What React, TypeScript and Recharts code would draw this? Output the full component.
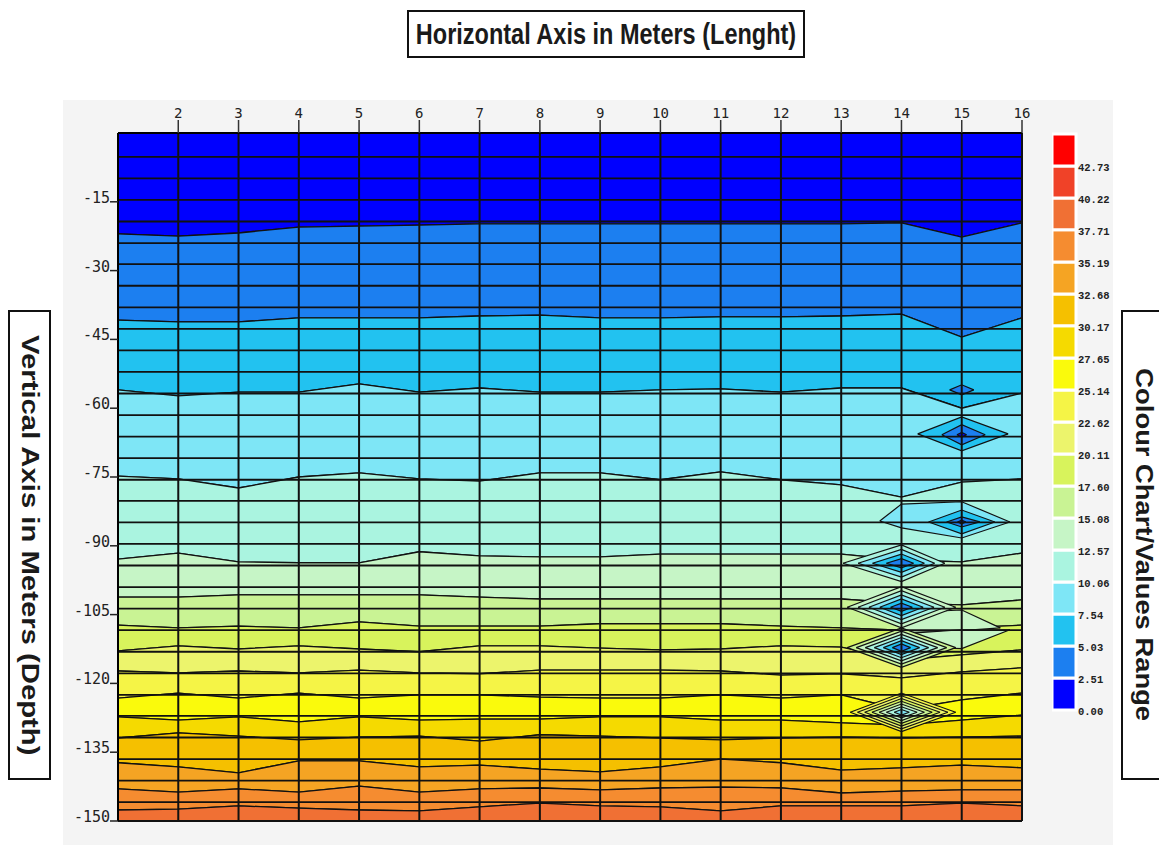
import React from "react";
import {
  Area,
  Bar,
  BarChart,
  ComposedChart,
  ReferenceLine,
  XAxis,
  YAxis,
} from "recharts";

// survey stations along the line (m)
const xMeters = [1, 2, 3, 4, 5, 6, 7, 8, 9, 10, 11, 12, 13, 14, 15, 16];
const xTicks = [2, 3, 4, 5, 6, 7, 8, 9, 10, 11, 12, 13, 14, 15, 16];
const depthTicks = [-15, -30, -45, -60, -75, -90, -105, -120, -135, -150];

// depth of the sampled rows (horizontal grid lines)
const gridRows = [
  -5.2, -9.9, -14.6, -19.3, -24.0, -28.6, -33.3, -38.0, -42.7, -47.4, -52.1,
  -56.8, -61.5, -66.2, -70.9, -75.6, -80.2, -84.9, -89.6, -94.3, -99.0,
  -103.7, -108.4, -113.1, -117.8, -122.5, -127.1, -131.8, -136.5, -141.2,
  -145.9,
];

// depth of each contour level at every station
const contour251 = [-22.0, -22.5, -21.8, -20.5, -20.3, -20.1, -19.8, -19.8, -19.8, -19.8, -19.8, -19.8, -19.8, -19.6, -22.7, -19.6];
const contour503 = [-40.8, -41.2, -41.2, -40.3, -40.3, -40.3, -39.9, -39.7, -40.3, -40.3, -40.1, -40.1, -39.9, -39.5, -44.5, -40.3];
const contour754 = [-56.0, -57.3, -56.5, -56.5, -54.7, -56.5, -55.6, -56.5, -56.5, -56.0, -55.8, -56.5, -55.6, -55.6, -60.0, -56.7];
const contour1006 = [-74.8, -75.4, -77.4, -75.0, -74.1, -75.4, -75.9, -74.1, -74.1, -75.6, -73.9, -75.6, -76.7, -79.4, -76.1, -75.4];
const contour1257 = [-92.9, -91.6, -93.5, -93.7, -93.7, -91.3, -92.2, -92.4, -92.4, -91.8, -91.8, -91.8, -91.8, -93.1, -93.5, -91.6];
const contour1508 = [-101.2, -101.2, -100.7, -100.7, -100.7, -100.7, -101.2, -101.6, -101.6, -101.6, -101.6, -101.6, -101.6, -102.5, -102.9, -101.8];
const contour1760 = [-107.3, -107.9, -107.5, -107.9, -106.6, -107.5, -107.5, -107.5, -107.0, -107.0, -107.0, -107.5, -107.9, -108.4, -107.9, -107.3];
const contour2011 = [-112.9, -111.8, -112.5, -111.8, -112.5, -113.1, -111.8, -111.8, -112.3, -112.7, -112.5, -111.8, -112.1, -114.9, -113.8, -112.7];
const contour2262 = [-117.3, -117.7, -117.3, -117.7, -117.1, -117.7, -117.9, -117.1, -117.1, -117.1, -117.3, -118.2, -117.9, -118.8, -117.5, -116.6];
const contour2514 = [-123.2, -122.1, -123.2, -122.1, -123.2, -122.5, -122.5, -123.0, -123.2, -123.2, -122.5, -123.2, -122.5, -125.8, -123.6, -122.1];
const contour2765 = [-127.3, -128.0, -127.3, -128.4, -127.3, -128.0, -127.8, -127.8, -127.3, -127.3, -128.0, -128.0, -128.6, -129.1, -128.0, -126.9];
const contour3017 = [-131.9, -130.8, -131.5, -132.3, -131.7, -131.5, -132.6, -131.2, -131.5, -131.9, -132.3, -131.9, -131.7, -131.9, -131.7, -131.5];
const contour3268 = [-137.3, -138.2, -139.5, -136.9, -136.9, -138.2, -137.8, -138.7, -139.3, -138.2, -136.5, -137.3, -138.9, -138.4, -137.8, -138.4];
const contour3519 = [-143.0, -143.7, -143.0, -143.7, -142.4, -143.7, -143.0, -142.8, -143.2, -142.8, -142.6, -142.8, -143.9, -143.5, -143.2, -143.2];
const contour3771 = [-147.6, -147.4, -146.7, -147.2, -147.6, -147.8, -146.9, -146.1, -146.7, -146.9, -147.8, -146.7, -146.7, -146.7, -146.1, -146.7];

const contours = [
  contour251, contour503, contour754, contour1006, contour1257, contour1508,
  contour1760, contour2011, contour2262, contour2514, contour2765, contour3017,
  contour3268, contour3519, contour3771,
];

// colour chart values and colours (lowest first)
const colourLevels = [
  0.0, 2.51, 5.03, 7.54, 10.06, 12.57, 15.08, 17.6, 20.11, 22.62, 25.14, 27.65,
  30.17, 32.68, 35.19, 37.71, 40.22, 42.73,
];
const colourTop = 45.24;
const bandColors = [
  "#0000ff", "#1c7ff0", "#22c2f0", "#7ee6f6", "#aaf4e0", "#c6f5c6",
  "#c9f394", "#d8f35c", "#ecf46c", "#f5f446", "#fafa0c", "#f5da00",
  "#f5c000", "#f5a423", "#f58c30", "#f07034", "#f04228", "#ff0000",
];

// local low-value pockets near stations 13-16
type Ring = { band: number; cx: number; cy: number; left: number; right: number; half: number };
type Patch = { band: number; pts: [number, number, number][] };
const anomalies: (Ring | Patch)[] = [
  { band: 1, cx: 15, cy: -56.0, left: 0.2, right: 0.2, half: 1.1 },
  { band: 2, cx: 15, cy: -65.6, left: 0.73, right: 0.77, half: 3.7 },
  { band: 1, cx: 15, cy: -65.8, left: 0.33, right: 0.39, half: 2.2 },
  { band: 0, cx: 15, cy: -65.8, left: 0.08, right: 0.08, half: 0.5 },
  { band: 3, pts: [[13.64, -84.6, -84.6], [14, -80.9, -86.1], [15, -80.4, -88.3], [15.8, -84.8, -84.8]] },
  { band: 2, cx: 15, cy: -84.8, left: 0.55, right: 0.55, half: 2.6 },
  { band: 1, cx: 15, cy: -84.8, left: 0.25, right: 0.3, half: 1.1 },
  { band: 0, cx: 15, cy: -84.8, left: 0.07, right: 0.07, half: 0.4 },
  { band: 4, cx: 14, cy: -93.8, left: 0.97, right: 0.72, half: 4.0 },
  { band: 3, cx: 14, cy: -93.8, left: 0.72, right: 0.55, half: 3.0 },
  { band: 2, cx: 14, cy: -93.8, left: 0.48, right: 0.38, half: 2.0 },
  { band: 1, cx: 14, cy: -93.8, left: 0.25, right: 0.2, half: 1.0 },
  { band: 5, pts: [[14, -104.6, -109.0], [15, -104.0, -108.5], [15.64, -107.9, -107.9]] },
  { band: 5, cx: 14, cy: -103.4, left: 0.9, right: 0.9, half: 4.5 },
  { band: 4, cx: 14, cy: -103.4, left: 0.72, right: 0.72, half: 3.6 },
  { band: 3, cx: 14, cy: -103.4, left: 0.54, right: 0.54, half: 2.7 },
  { band: 2, cx: 14, cy: -103.4, left: 0.36, right: 0.36, half: 1.8 },
  { band: 1, cx: 14, cy: -103.4, left: 0.18, right: 0.18, half: 0.9 },
  { band: 5, pts: [[14, -109.2, -112.0], [15, -108.3, -112.4], [15.8, -108.3, -108.3]] },
  { band: 6, cx: 14, cy: -112.2, left: 0.9, right: 0.9, half: 4.3 },
  { band: 5, cx: 14, cy: -112.2, left: 0.75, right: 0.75, half: 3.6 },
  { band: 4, cx: 14, cy: -112.2, left: 0.6, right: 0.6, half: 2.9 },
  { band: 3, cx: 14, cy: -112.2, left: 0.45, right: 0.45, half: 2.2 },
  { band: 2, cx: 14, cy: -112.2, left: 0.3, right: 0.3, half: 1.5 },
  { band: 1, cx: 14, cy: -112.2, left: 0.15, right: 0.15, half: 0.8 },
  { band: 9, cx: 14, cy: -126.3, left: 0.85, right: 0.9, half: 4.2 },
  { band: 8, cx: 14, cy: -126.3, left: 0.73, right: 0.77, half: 3.6 },
  { band: 7, cx: 14, cy: -126.3, left: 0.61, right: 0.64, half: 3.0 },
  { band: 6, cx: 14, cy: -126.3, left: 0.49, right: 0.51, half: 2.4 },
  { band: 5, cx: 14, cy: -126.3, left: 0.37, right: 0.38, half: 1.8 },
  { band: 4, cx: 14, cy: -126.3, left: 0.25, right: 0.26, half: 1.2 },
  { band: 3, cx: 14, cy: -126.3, left: 0.12, right: 0.13, half: 0.6 },
];

const bandCount = contours.length + 1;

const table = xMeters.map((x, i) => {
  const row: Record<string, any> = { x };
  for (let k = 0; k < bandCount; k++) {
    const top = k === 0 ? 0 : contours[k - 1][i];
    const bottom = k === contours.length ? -150 : contours[k][i];
    row[`band${k}`] = [bottom, top];
  }
  return row;
});

const anomalyData = anomalies.map((a) => {
  if ("pts" in a) {
    return { band: a.band, data: a.pts.map(([x, lo, hi]) => ({ x, r: [lo, hi] })) };
  }
  return {
    band: a.band,
    data: [
      { x: a.cx - a.left, r: [a.cy, a.cy] },
      { x: a.cx, r: [a.cy - a.half, a.cy + a.half] },
      { x: a.cx + a.right, r: [a.cy, a.cy] },
    ],
  };
});

const colourRow: Record<string, any> = { name: "range" };
colourLevels.forEach((v, k) => {
  const next = k + 1 < colourLevels.length ? colourLevels[k + 1] : colourTop;
  colourRow[`s${k}`] = next - v;
});

const monoFont = "'DejaVu Sans Mono', monospace";

const DepthTick = (props: any) => {
  const { x, y, payload } = props;
  return (
    <g>
      <line x1={x - 8} y1={y} x2={x} y2={y} stroke="#222" strokeWidth={1.5} />
      <text
        x={x - 8}
        y={y + 1}
        textAnchor="end"
        fontFamily={monoFont}
        fontSize={15}
        fill="#222"
      >
        {payload.value}
      </text>
    </g>
  );
};

const titleStyle: React.CSSProperties = {
  position: "absolute",
  boxSizing: "border-box",
  border: "2px solid #111",
  background: "#fff",
  fontFamily: "'Liberation Sans', Arial, sans-serif",
  fontWeight: "bold",
  color: "#1a1a1a",
  display: "flex",
  alignItems: "center",
  justifyContent: "center",
  whiteSpace: "nowrap",
};

const App = () => {
  return (
    <div
      style={{
        position: "absolute",
        left: 0,
        top: 0,
        width: 1159,
        height: 845,
        background: "#fff",
        overflow: "hidden",
      }}
    >
      <div style={{ ...titleStyle, left: 407, top: 10, width: 398, height: 48, fontSize: 23.5 }}>
        <span style={{ display: "inline-block", transform: "scale(1, 1.25)" }}>
          Horizontal Axis in Meters (Lenght)
        </span>
      </div>

      <div style={{ ...titleStyle, left: 8, top: 310, width: 43, height: 470, fontSize: 24 }}>
        <span style={{ writingMode: "vertical-rl", display: "inline-block", transform: "scale(1, 1.22)" }}>
          Vertical Axis in Meters (Depth)
        </span>
      </div>

      <div style={{ ...titleStyle, left: 1121, top: 310, width: 45, height: 470, fontSize: 24 }}>
        <span style={{ writingMode: "vertical-rl", display: "inline-block", transform: "scale(1, 1.14)" }}>
          Colour Chart/Values Range
        </span>
      </div>

      <div
        style={{
          position: "absolute",
          left: 63,
          top: 100,
          width: 1050,
          height: 745,
          background: "#f4f4f4",
        }}
      >
        <ComposedChart
          width={1050}
          height={745}
          data={table}
          margin={{ top: 0, right: 91, bottom: 24, left: 0 }}
        >
          <XAxis
            dataKey="x"
            type="number"
            orientation="top"
            domain={[1, 16]}
            ticks={xTicks}
            interval={0}
            height={33}
            tickSize={13}
            tickMargin={2}
            allowDataOverflow
            axisLine={{ stroke: "#000", strokeWidth: 2 }}
            tickLine={{ stroke: "#333", strokeWidth: 1.5 }}
            tick={{ fontFamily: monoFont, fontSize: 14, fill: "#222" }}
          />
          <YAxis
            type="number"
            domain={[-150, 0]}
            ticks={depthTicks}
            interval={0}
            width={55}
            tickSize={0}
            tickMargin={0}
            allowDataOverflow
            axisLine={{ stroke: "#000", strokeWidth: 2 }}
            tickLine={false}
            tick={<DepthTick />}
          />
          {Array.from({ length: bandCount }, (_, k) => (
            <Area
              key={`band${k}`}
              dataKey={`band${k}`}
              type="linear"
              fill={bandColors[k]}
              fillOpacity={1}
              stroke="#111"
              strokeWidth={1.3}
              dot={false}
              activeDot={false}
              isAnimationActive={false}
            />
          ))}
          {anomalyData.map((a, i) => (
            <Area
              key={`anomaly${i}`}
              data={a.data}
              dataKey="r"
              type="linear"
              fill={bandColors[a.band]}
              fillOpacity={1}
              stroke="#111"
              strokeWidth={1.2}
              dot={false}
              activeDot={false}
              isAnimationActive={false}
            />
          ))}
          {gridRows.map((d) => (
            <ReferenceLine key={`row${d}`} y={d} stroke="#111" strokeWidth={1.8} />
          ))}
          {xTicks.map((x) => (
            <ReferenceLine key={`col${x}`} x={x} stroke="#111" strokeWidth={2} />
          ))}
          <ReferenceLine y={-150} stroke="#111" strokeWidth={2} />
        </ComposedChart>
      </div>

      <div style={{ position: "absolute", left: 1052, top: 127 }}>
        <BarChart
          width={64}
          height={605}
          data={[colourRow]}
          margin={{ top: 7, right: 0, bottom: 22, left: 0 }}
          barCategoryGap={0}
          barGap={0}
        >
          <XAxis dataKey="name" hide />
          <YAxis
            orientation="right"
            type="number"
            domain={[0, colourTop]}
            ticks={colourLevels}
            interval={0}
            width={40}
            tickSize={0}
            tickMargin={2}
            axisLine={false}
            tickLine={false}
            tickFormatter={(v: number) => v.toFixed(2)}
            tick={{
              fontFamily: "'Liberation Mono', monospace",
              fontSize: 10.5,
              fontWeight: 600,
              fill: "#222",
              dy: 1,
            }}
          />
          {colourLevels.map((_, k) => (
            <Bar
              key={`s${k}`}
              dataKey={`s${k}`}
              stackId="scale"
              fill={bandColors[k]}
              stroke="#fff"
              strokeWidth={3}
              isAnimationActive={false}
            />
          ))}
        </BarChart>
      </div>
    </div>
  );
};

export default App;
